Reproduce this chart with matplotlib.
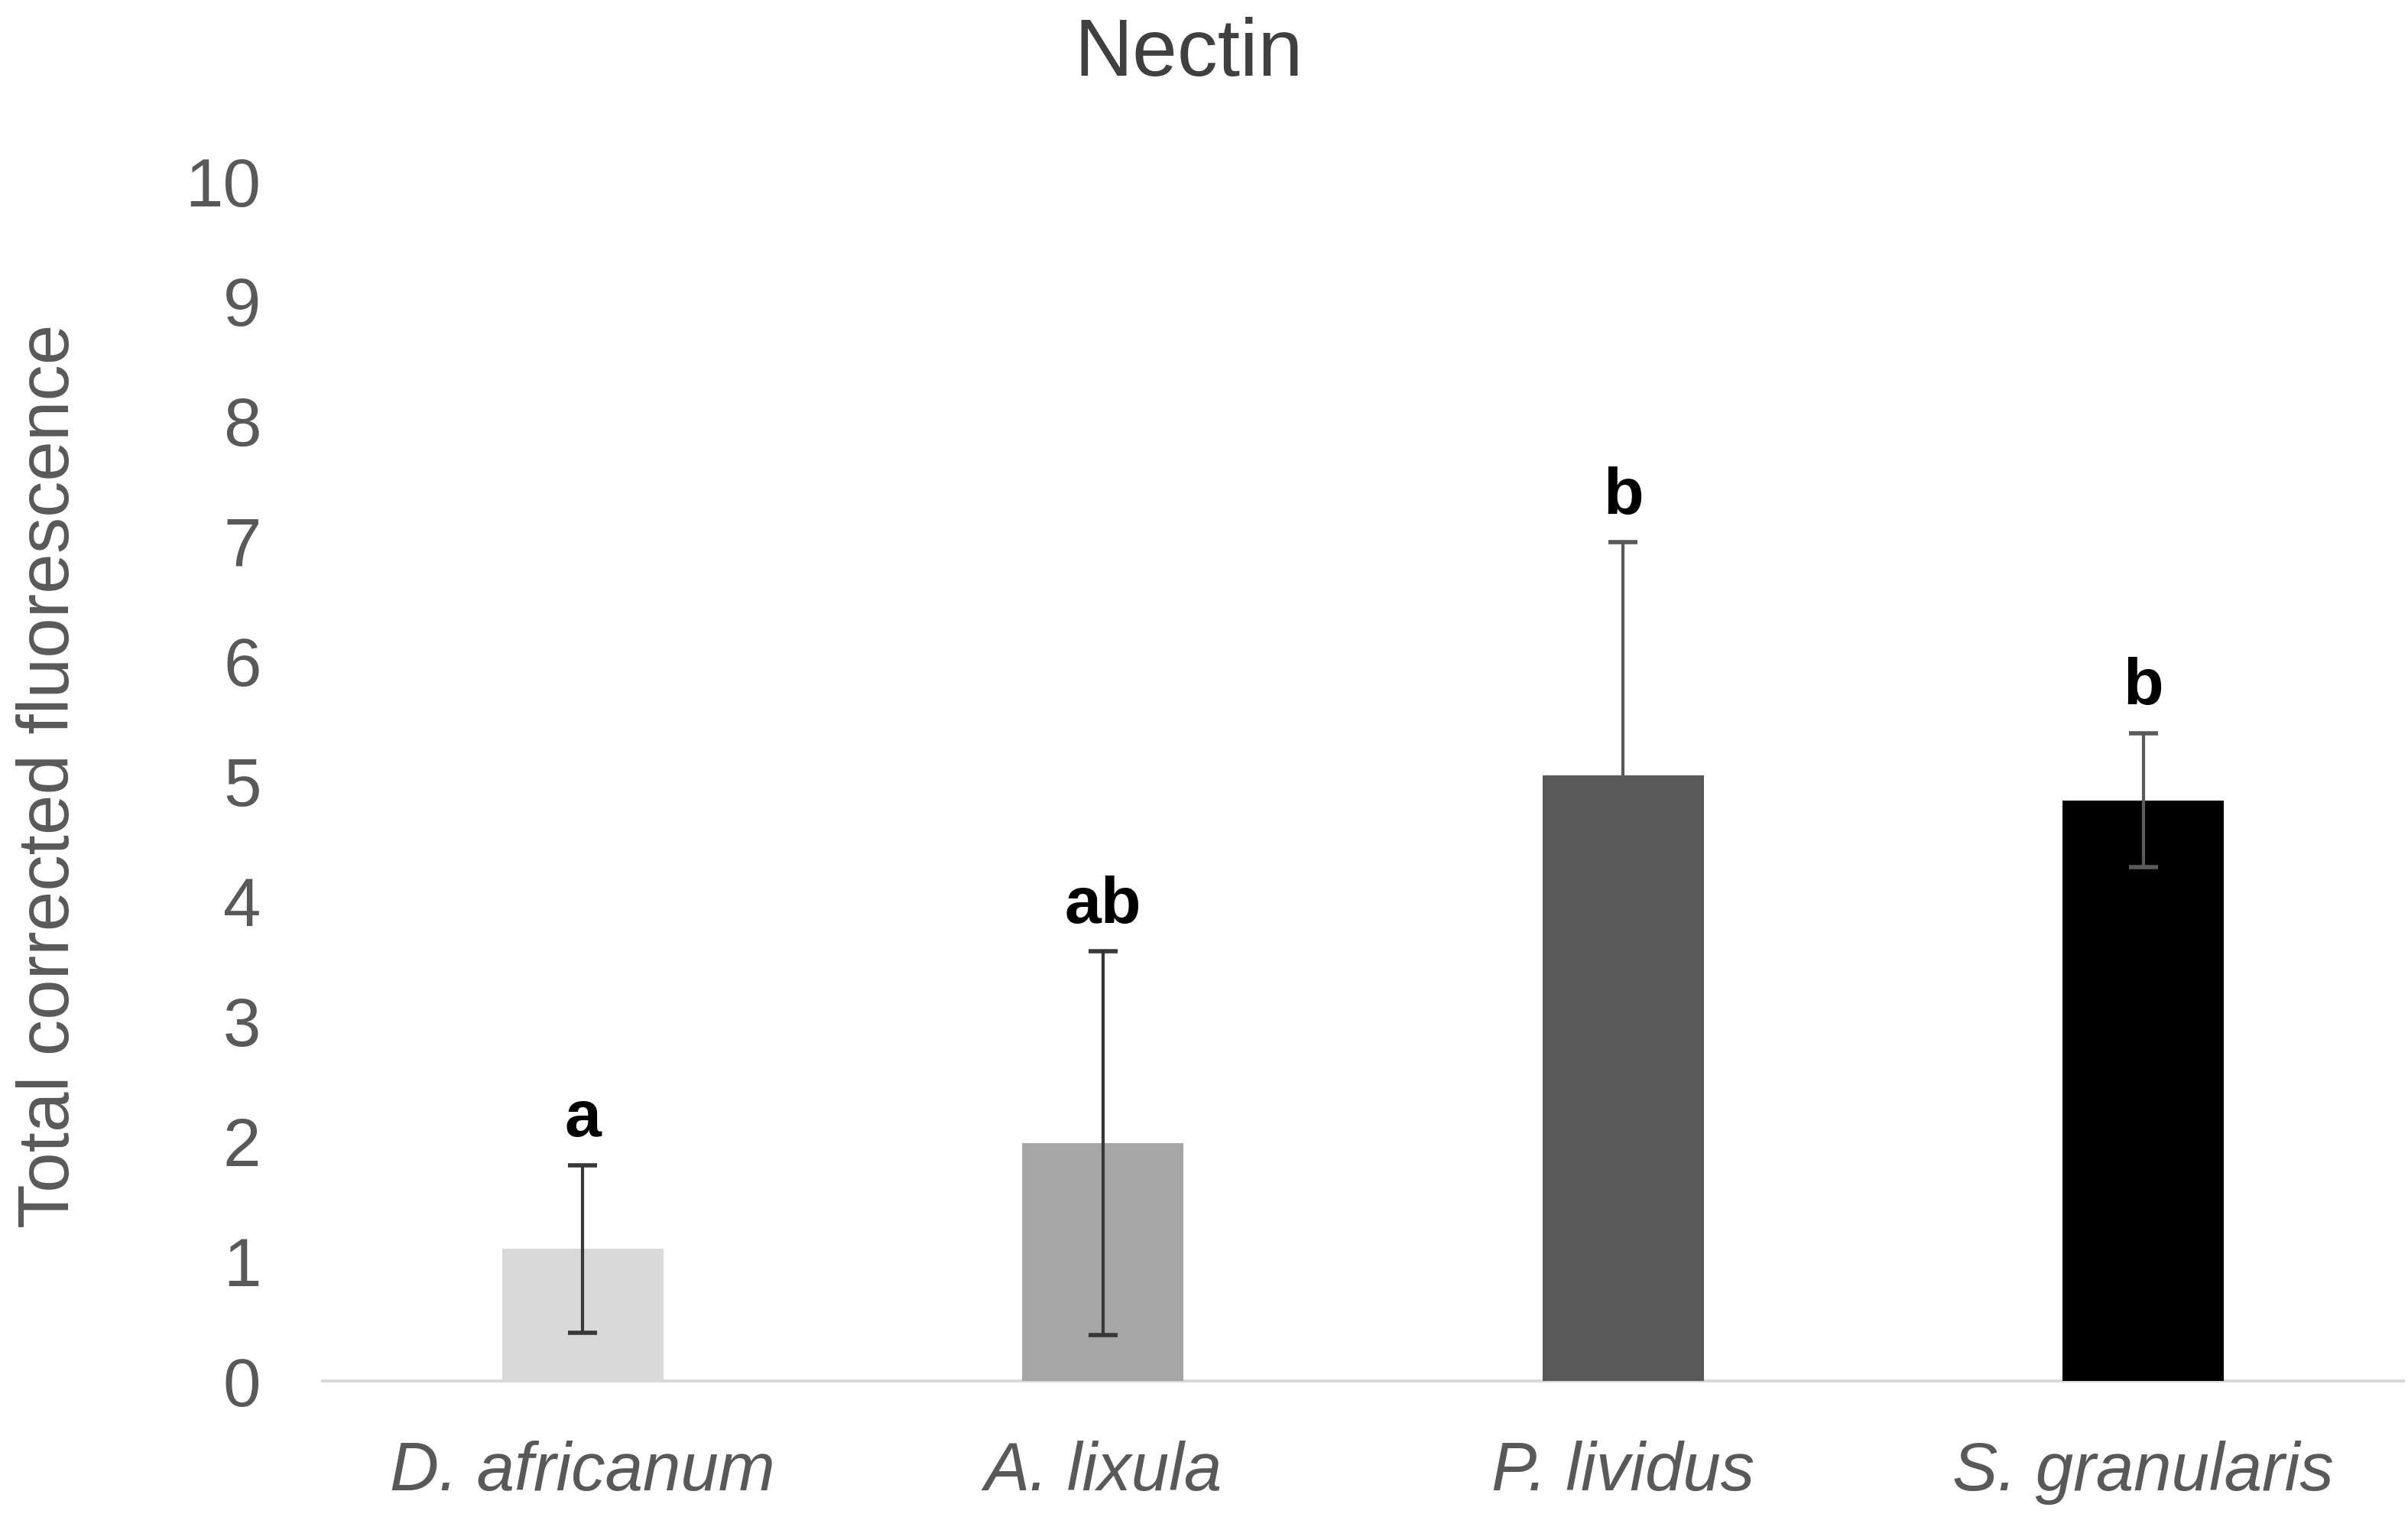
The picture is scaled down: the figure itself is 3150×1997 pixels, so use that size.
import matplotlib
matplotlib.use("Agg")
import matplotlib.pyplot as plt

categories = ["D. africanum", "A. lixula", "P. lividus", "S. granularis"]
means = [1.10, 1.98, 5.05, 4.84]
errors = [0.70, 1.60, 1.94, 0.56]
letters = ["a", "ab", "b", "b"]
bar_colors = ["#D9D9D9", "#A6A6A6", "#595959", "#000000"]
err_colors = ["#383838", "#383838", "#595959", "#5a5a5a"]
yticks = list(range(0, 11))

plt.rcParams['font.family'] = ['Liberation Sans', 'DejaVu Sans']

fig = plt.figure(figsize=(31.5, 19.97), dpi=100)
ax = fig.add_axes([422/3150, 1 - 1806/1997, (3144-422)/3150, (1806-237)/1997])

x = list(range(len(categories)))
ax.bar(x, means, width=0.31, color=bar_colors, zorder=2)
for xi, m, e, ec in zip(x, means, errors, err_colors):
    ax.errorbar([xi], [m], yerr=[e], fmt='none', ecolor=ec,
                elinewidth=3, capsize=14, capthick=4, zorder=3)

for xi, m, e, lab in zip(x, means, errors, letters):
    ax.text(xi, m + e + 0.24, lab, ha='center', va='baseline',
            fontsize=62, fontweight='bold', color='black')

ax.set_xlim(-0.5, 3.5)
ax.set_ylim(0, 10)
ax.set_yticks(yticks)
ax.set_yticklabels([str(t) for t in yticks])
ax.set_xticks(x)
ax.set_xticklabels(categories, fontstyle='italic')
ax.tick_params(axis='both', length=0, labelsize=64, labelcolor='#595959')
ax.tick_params(axis='y', pad=58)
ax.tick_params(axis='x', pad=56)

for s in ['top', 'right', 'left']:
    ax.spines[s].set_visible(False)
ax.spines['bottom'].set_color('#D9D9D9')
ax.spines['bottom'].set_linewidth(3)
ax.spines['bottom'].set_zorder(1)

ax.set_ylabel("Total corrected fluorescence", fontsize=68, color='#595959')
ax.yaxis.set_label_coords((110 - 422) / 2722, 0.504)
fig.text(1555/3150, 1 - 72/1997, "Nectin", ha='center', va='center', fontsize=76, color='#404040')

fig.savefig("out.png", dpi=100, facecolor='white')
